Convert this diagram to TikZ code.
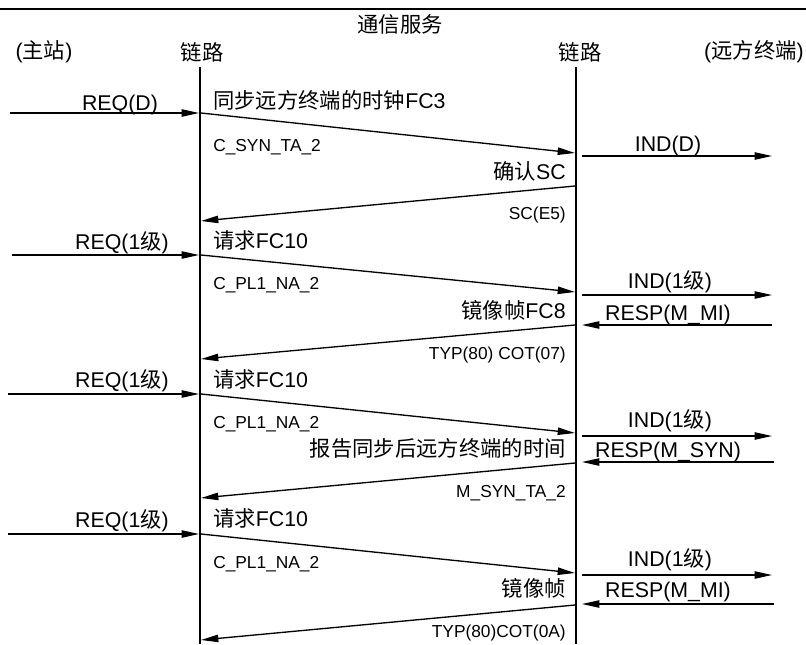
\documentclass[tikz,border=0pt]{standalone}
\usepackage{fontspec}
\setmainfont{Liberation Sans}
\newfontfamily\cjk{Noto Sans CJK SC}
\usetikzlibrary{arrows.meta}
\newcommand\zh[1]{{\cjk #1}}
\begin{document}
\begin{tikzpicture}[x=0.75pt,y=-0.75pt,
  lbl/.style={font=\fontsize{16}{19}\selectfont, inner sep=0pt},
  sml/.style={font=\fontsize{13}{15}\selectfont, inner sep=0pt},
  msg/.style={line width=1pt, -{Triangle[length=13pt,width=5.5pt]}},
  life/.style={line width=1pt},
  rule/.style={line width=1.5pt}]
\useasboundingbox (0,0) rectangle (806,644);
% top rule
\coordinate (tl) at (0,9);
\coordinate (tr) at (806,9);
\draw[rule] (tl) -- (tr);
% headers
\node[lbl] (title) at (400,24) {\zh{通信服务}};
\node[lbl] (ms) at (44,52) {(\zh{主站})};
\node[lbl] (ll) at (202,52) {\zh{链路}};
\node[lbl] (rl) at (580,52) {\zh{链路}};
\node[lbl] (rt) at (754,52) {(\zh{远方终端})};
% lifelines
\coordinate (Lt) at (200,67); \coordinate (Lb) at (200,644);
\coordinate (Rt) at (576,67); \coordinate (Rb) at (576,644);
\draw[life] (Lt) -- (Lb);
\draw[life] (Rt) -- (Rb);

% ---------- block 1 ----------
\coordinate (a1s) at (10,113); \coordinate (a1e) at (199,113);
\draw[msg] (a1s) -- (a1e);
\node[lbl,anchor=base] (a1l) at (120,110) {REQ(D)};
\node[lbl,anchor=base west] (t1) at (213,108) {\zh{同步远方终端的时钟}FC3};
\coordinate (d1s) at (201,113); \coordinate (d1e) at (575,153);
\draw[msg] (d1s) -- (d1e);
\node[sml,anchor=base west] (c1) at (213,151) {C\_SYN\_TA\_2};
\coordinate (i1s) at (582,156); \coordinate (i1e) at (772,156);
\draw[msg] (i1s) -- (i1e);
\node[lbl,anchor=base] (i1l) at (668,151) {IND(D)};
\node[lbl,anchor=base east] (k1) at (566,179) {\zh{确认}SC};
\coordinate (r1s) at (575,186); \coordinate (r1e) at (201,221);
\draw[msg] (r1s) -- (r1e);
\node[sml,anchor=base east] (s1) at (566,219) {SC(E5)};

% ---------- block 2 ----------
\coordinate (a2s) at (12,255); \coordinate (a2e) at (199,255);
\draw[msg] (a2s) -- (a2e);
\node[lbl,anchor=base] (a2l) at (122,249) {REQ(1\zh{级})};
\node[lbl,anchor=base west] (t2) at (213,248) {\zh{请求}FC10};
\coordinate (d2s) at (201,255); \coordinate (d2e) at (575,292);
\draw[msg] (d2s) -- (d2e);
\node[sml,anchor=base west] (c2) at (213,289) {C\_PL1\_NA\_2};
\coordinate (i2s) at (582,295); \coordinate (i2e) at (772,295);
\draw[msg] (i2s) -- (i2e);
\node[lbl,anchor=base] (i2l) at (670,288) {IND(1\zh{级})};
\node[lbl,anchor=base east] (k2) at (566,318) {\zh{镜像帧}FC8};
\coordinate (p2s) at (772,325); \coordinate (p2e) at (582,325);
\draw[msg] (p2s) -- (p2e);
\node[lbl,anchor=base] (p2l) at (668,320) {RESP(M\_MI)};
\coordinate (r2s) at (575,325); \coordinate (r2e) at (201,359);
\draw[msg] (r2s) -- (r2e);
\node[sml,anchor=base east] (s2) at (566,359) {TYP(80) COT(07)};

% ---------- block 3 ----------
\coordinate (a3s) at (8,394); \coordinate (a3e) at (199,394);
\draw[msg] (a3s) -- (a3e);
\node[lbl,anchor=base] (a3l) at (122,387) {REQ(1\zh{级})};
\node[lbl,anchor=base west] (t3) at (213,387) {\zh{请求}FC10};
\coordinate (d3s) at (201,394); \coordinate (d3e) at (575,433);
\draw[msg] (d3s) -- (d3e);
\node[sml,anchor=base west] (c3) at (213,428) {C\_PL1\_NA\_2};
\coordinate (i3s) at (582,436); \coordinate (i3e) at (772,436);
\draw[msg] (i3s) -- (i3e);
\node[lbl,anchor=base] (i3l) at (670,427) {IND(1\zh{级})};
\node[lbl,anchor=base east] (k3) at (566,456) {\zh{报告同步后远方终端的时间}};
\coordinate (p3s) at (774,462); \coordinate (p3e) at (582,462);
\draw[msg] (p3s) -- (p3e);
\node[lbl,anchor=base] (p3l) at (668,457) {RESP(M\_SYN)};
\coordinate (r3s) at (575,463); \coordinate (r3e) at (201,498);
\draw[msg] (r3s) -- (r3e);
\node[sml,anchor=base east] (s3) at (566,497) {M\_SYN\_TA\_2};

% ---------- block 4 ----------
\coordinate (a4s) at (8,534); \coordinate (a4e) at (199,534);
\draw[msg] (a4s) -- (a4e);
\node[lbl,anchor=base] (a4l) at (122,527) {REQ(1\zh{级})};
\node[lbl,anchor=base west] (t4) at (213,526) {\zh{请求}FC10};
\coordinate (d4s) at (201,534); \coordinate (d4e) at (575,573);
\draw[msg] (d4s) -- (d4e);
\node[sml,anchor=base west] (c4) at (213,568) {C\_PL1\_NA\_2};
\coordinate (i4s) at (582,575); \coordinate (i4e) at (772,575);
\draw[msg] (i4s) -- (i4e);
\node[lbl,anchor=base] (i4l) at (670,566) {IND(1\zh{级})};
\node[lbl,anchor=base east] (k4) at (566,596) {\zh{镜像帧}};
\coordinate (p4s) at (774,604); \coordinate (p4e) at (582,604);
\draw[msg] (p4s) -- (p4e);
\node[lbl,anchor=base] (p4l) at (668,597) {RESP(M\_MI)};
\coordinate (r4s) at (575,605); \coordinate (r4e) at (201,640);
\draw[msg] (r4s) -- (r4e);
\node[sml,anchor=base east] (s4) at (566,637) {TYP(80)COT(0A)};
\end{tikzpicture}
\end{document}
